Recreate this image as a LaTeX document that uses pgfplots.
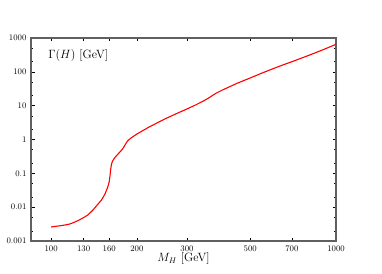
\documentclass[border=0pt]{standalone}
\usepackage{pgfplots}
\pgfplotsset{compat=1.18}
\begin{document}
\begin{tikzpicture}[x=1pt,y=1pt]
\path (0,0) rectangle (382,273);
\begin{axis}[
  at={(31pt,32pt)}, anchor=south west,
  scale only axis, width=305pt, height=203pt,
  xmode=log, ymode=log,
  xmin=85, xmax=1000, ymin=0.001, ymax=1000,
  xtick={100,130,160,200,300,500,700,1000},
  xticklabels={100,130,160,200,300,500,700,1000},
  minor xtick={},
  ytick={0.001,0.01,0.1,1,10,100,1000},
  yticklabels={0.001,0.01,0.1,1,10,100,1000},
  minor ytick={0.002,0.005,0.02,0.05,0.2,0.5,2,5,20,50,200,500},
  tick align=inside,
  major tick length=3.5pt, minor tick length=2pt,
  tick style={black, line width=0.6pt},
  axis line style={gray!75!black, line width=1.1pt},
  ticklabel style={font=\fontsize{8.5}{9}\selectfont},
  xticklabel style={yshift=-1pt},
  yticklabel style={xshift=-1pt},
  log ticks with fixed point,
  xlabel={$M_H$ [GeV]},
  xlabel style={font=\fontsize{12}{14}\selectfont, yshift=6pt},
  clip=true,
]
\addplot[red, line width=1.1pt] coordinates {
(100,0.0026)(105,0.00275)(110,0.0029)(115,0.0031)(120,0.0035)(125,0.0041)
(130,0.0049)(135,0.0060)(140,0.0081)(145,0.0115)(150,0.016)(153,0.021)
(155,0.026)(157,0.034)(159,0.046)(160,0.058)(161,0.085)(162,0.14)
(163,0.19)(164,0.22)(165,0.245)(167,0.285)(170,0.34)
(175,0.44)(178,0.52)(180,0.60)(183,0.76)(186,0.93)(190,1.08)(195,1.26)
(200,1.45)(220,2.3)(250,4.0)(280,6.2)(300,8.0)(320,10.3)(340,13.3)
(350,15.2)(360,17.6)(370,20.5)(380,23.5)(400,29.2)(450,46)(500,66)
(550,92)(600,123)(650,159)(700,199)(800,304)(900,449)(1000,650)
};
\node[anchor=west, font=\fontsize{12}{14}\selectfont] at (rel axis cs:0.045,0.915) {$\Gamma(H)$ [GeV]};
\end{axis}
\end{tikzpicture}
\end{document}
